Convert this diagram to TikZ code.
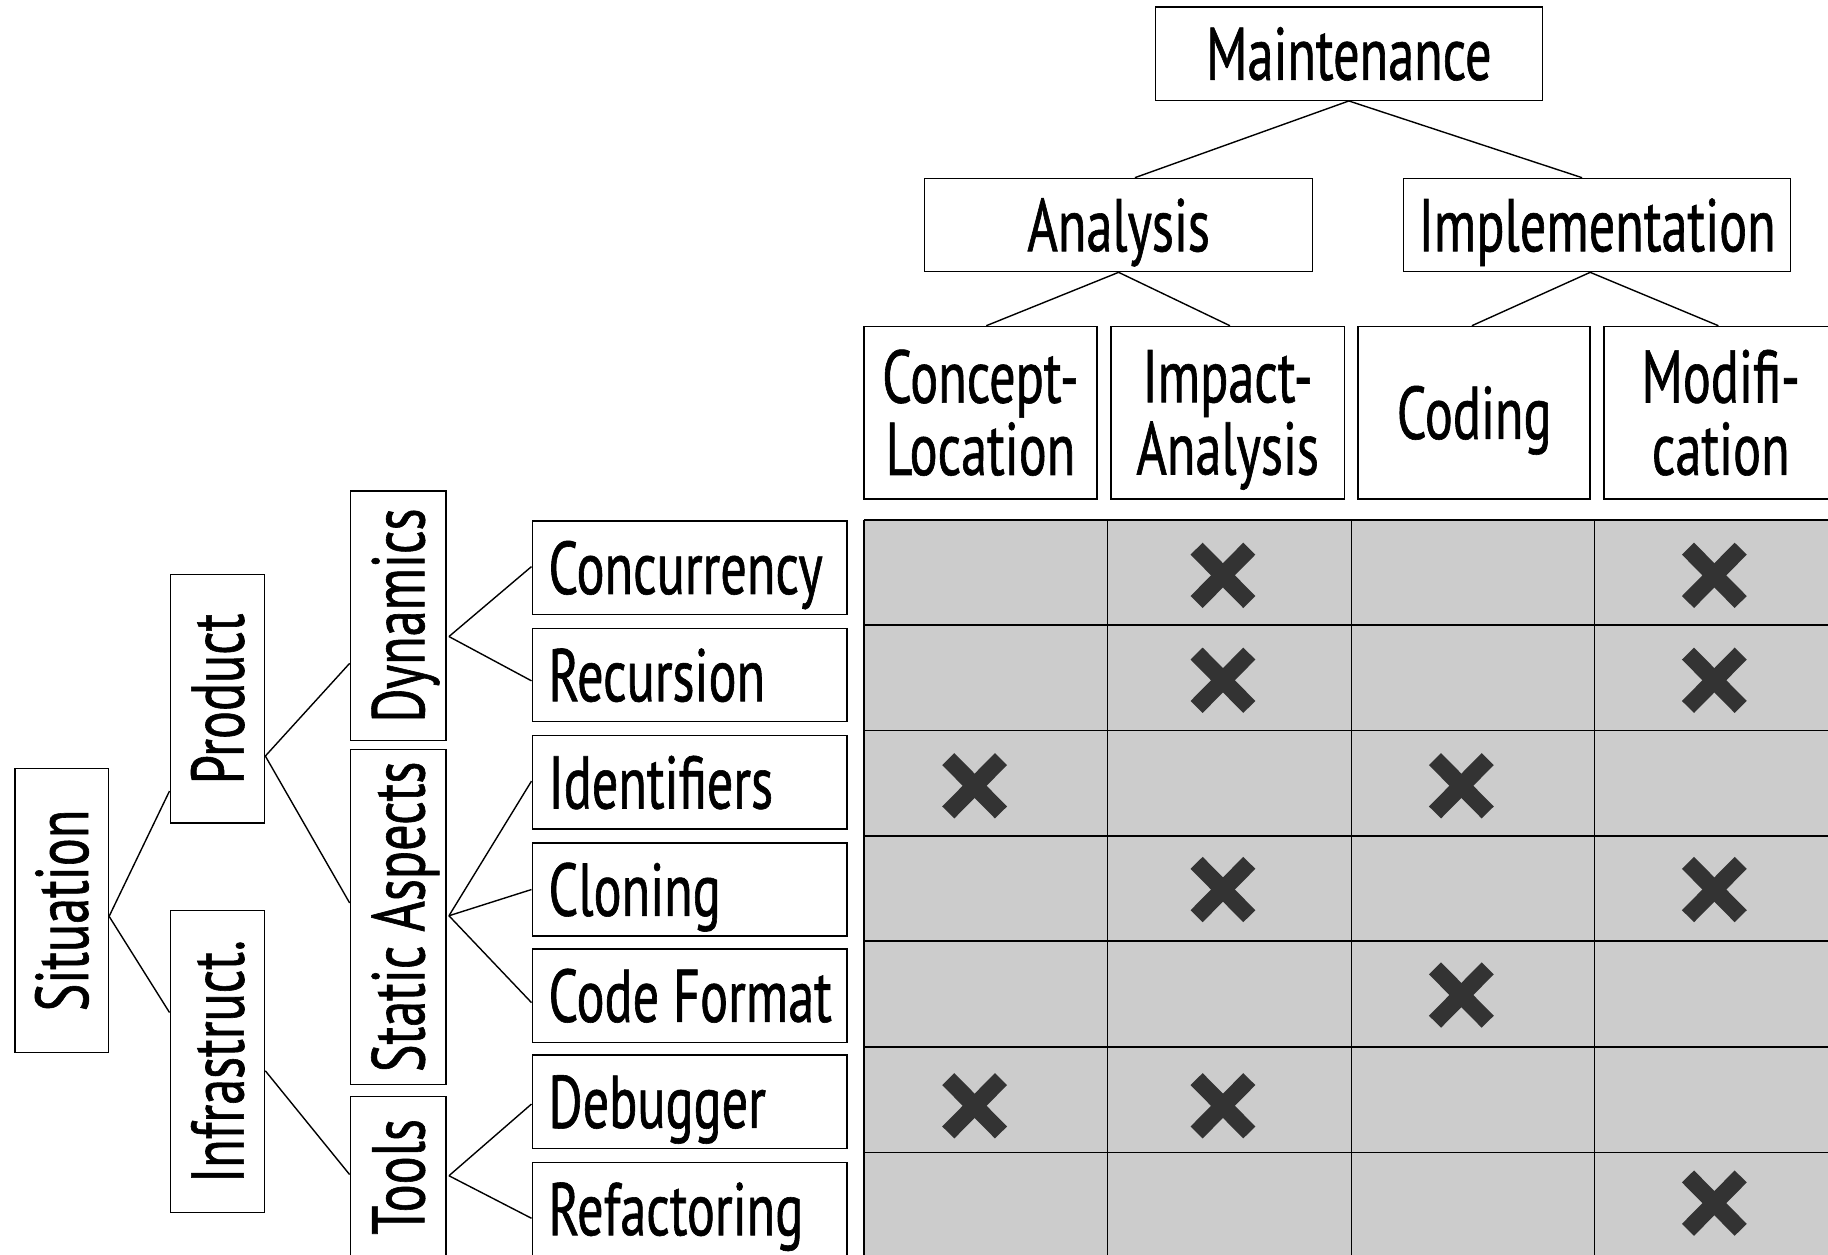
\documentclass[tikz,border=0pt]{standalone}
\usepackage{fontspec}
\setmainfont{PT Sans}[FakeStretch=0.70,FakeBold=0.8]
\usetikzlibrary{calc}
\definecolor{cellgray}{HTML}{CCCCCC}
\definecolor{markgray}{HTML}{333333}
\newcommand\cellmark[2]{%
  \draw[markgray,line width=7.3pt] ($(#1,#2)+(-22.6,-22.9)$) -- ++(45.2,45.8);
  \draw[markgray,line width=7.3pt] ($(#1,#2)+(22.6,-22.9)$) -- ++(-45.2,45.8);}
\newcommand\vtext[1]{\rotatebox{90}{\raisebox{0pt}[22.5pt][0pt]{#1}}}
\begin{document}
\begin{tikzpicture}[x=0.5pt,y=-0.5pt,
  box/.style={draw=black,line width=0.6pt,inner sep=0pt,fill=white,
    font=\fontsize{32}{31}\selectfont},
  onel/.style={box,text height=22.5pt,text depth=0pt},
  twol/.style={box,align=center,minimum width=100pt,minimum height=74pt},
  leaf/.style={onel,minimum width=135pt,minimum height=40pt,inner xsep=7pt},
  vbox/.style={box,minimum width=41pt},
  conn/.style={draw=black,line width=0.6pt},
  gridline/.style={draw=black,line width=0.6pt}]
\useasboundingbox (0,0) rectangle (1568,1076);
\clip (0,0) rectangle (1568,1076);

% top hierarchy
\node[onel,minimum width=166pt,minimum height=40pt] (maint) at (1157,46) {Maintenance};
\node[onel,minimum width=166.5pt,minimum height=40pt] (anal) at (959.5,193) {Analysis};
\node[onel,minimum width=166pt,minimum height=40pt] (impl) at (1370,193) {Implementation};
\node[twol] (cl) at (841,354) {Concept-\\Location};
\node[twol] (ia) at (1053,354) {Impact-\\Anal\smash{y}sis};
\node[onel,minimum width=99.5pt,minimum height=74pt] (cod) at (1264.5,354) {Coding};
\node[twol] (mod) at (1476,354) {Modifi-\\cation};

\draw[conn] (maint.south) -- ($(anal.north)+(14,0)$);
\draw[conn] (maint.south) -- ($(impl.north)+(-13,0)$);
\draw[conn] (anal.south) -- ($(cl.north)+(5,0)$);
\draw[conn] (anal.south) -- ($(ia.north)+(2,0)$);
\draw[conn] ($(impl.south)+(-6,0)$) -- ($(cod.north)+(-2,0)$);
\draw[conn] ($(impl.south)+(-6,0)$) -- ($(mod.north)+(-2,0)$);

% matrix
\fill[cellgray] (741,446) rectangle (1600,1100);
\foreach \y in {446,536,626.5,717,807,898,988.5,1079}
  \draw[gridline] (741,\y) -- (1600,\y);
\foreach \x in {741,950,1159,1367.5,1576}
  \draw[gridline] (\x,446) -- (\x,1100);

\cellmark{1049}{493.5}
\cellmark{1470.5}{493.5}
\cellmark{1049}{583.5}
\cellmark{1470.5}{583.5}
\cellmark{836}{674}
\cellmark{1253.5}{674}
\cellmark{1049}{763}
\cellmark{1470.5}{763}
\cellmark{1253.5}{853.5}
\cellmark{836}{948.5}
\cellmark{1049}{948.5}
\cellmark{1470.5}{1032}

% left tree
\node[vbox,minimum width=40pt,minimum height=122pt] (sit) at (53,781) {\vtext{Situation}};
\node[vbox,minimum width=40.5pt,minimum height=106.5pt] (prod) at (186.5,599.5) {\vtext{Product}};
\node[vbox,minimum width=40.5pt,minimum height=129.5pt] (infra) at (186.5,910.5) {\vtext{Infrastruct.}};
\node[vbox,minimum height=107pt] (dyn) at (341.5,528) {\vtext{Dynamics}};
\node[vbox,minimum height=143.5pt] (stat) at (341.5,786.5) {\vtext{Static Aspects}};
\node[vbox,minimum height=69pt] (tools) at (341.5,1009.5) {\vtext{Tools}};

\node[leaf] (conc) at (591.5,487) {\makebox[121pt][l]{Concurrency}};
\node[leaf] (rec) at (591.5,579) {\makebox[121pt][l]{Recursion}};
\node[leaf] (ident) at (591.5,671) {\makebox[121pt][l]{Identifiers}};
\node[leaf] (clon) at (591.5,763) {\makebox[121pt][l]{Cloning}};
\node[leaf] (cfmt) at (591.5,854) {\makebox[121pt][l]{Code Format}};
\node[leaf] (dbg) at (591.5,945) {\makebox[121pt][l]{Debugger}};
\node[leaf] (refac) at (591.5,1037) {\makebox[121pt][l]{Refactoring}};

\draw[conn] ($(sit.east)+(0,5)$) -- ($(prod.west)+(0,79)$);
\draw[conn] ($(sit.east)+(0,5)$) -- ($(infra.west)+(0,-42)$);
\draw[conn] ($(prod.east)+(0,49)$) -- ($(dyn.west)+(0,41)$);
\draw[conn] ($(prod.east)+(0,49)$) -- ($(stat.west)+(0,-12)$);
\draw[conn] ($(infra.east)+(0,8)$) -- ($(tools.west)+(0,-2)$);
\draw[conn] ($(dyn.east)+(2,18)$) -- ($(conc.west)+(0,-1)$);
\draw[conn] ($(dyn.east)+(2,18)$) -- ($(rec.west)+(0,5)$);
\draw[conn] ($(stat.east)+(2,-1)$) -- ($(ident.west)+(0,-1)$);
\draw[conn] ($(stat.east)+(2,-1)$) -- ($(clon.west)+(0,0)$);
\draw[conn] ($(stat.east)+(2,-1)$) -- ($(cfmt.west)+(0,6)$);
\draw[conn] ($(tools.east)+(2,-1)$) -- ($(dbg.west)+(0,2)$);
\draw[conn] ($(tools.east)+(2,-1)$) -- ($(refac.west)+(0,8)$);
\end{tikzpicture}
\end{document}
